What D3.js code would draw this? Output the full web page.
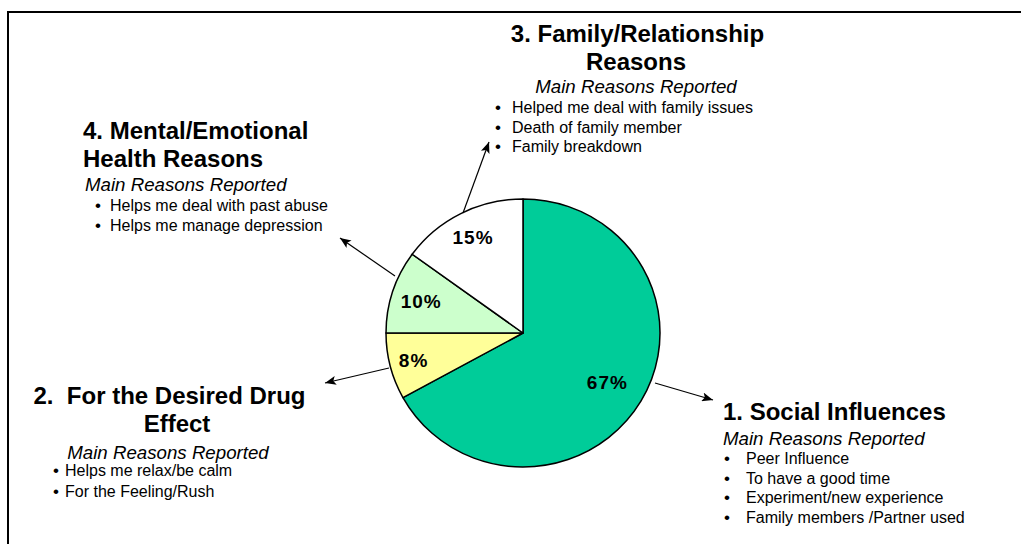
<!DOCTYPE html>
<html>
<head>
<meta charset="utf-8">
<script src="https://cdn.jsdelivr.net/npm/d3@7"></script>
<style>
  html, body { margin: 0; padding: 0; background: #fff; }
  svg { display: block; font-family: "Liberation Sans", Arial, sans-serif; }
</style>
</head>
<body>
<svg id="chart" width="1021" height="544"></svg>
<script>
// Reasons for use, share of respondents (%)
const categories = ["Social Influences", "For the Desired Drug Effect", "Mental/Emotional Health Reasons", "Family/Relationship Reasons"];
const values = [67, 8, 10, 15];
const sliceColors = ["#00CC99", "#FFFF99", "#CCFFCC", "#FFFFFF"];

// Slice draw order around the pie (clockwise from 12 o'clock)
const pieOrder = [0, 1, 2, 3];

// Callout blocks
const titles = [
  ["1. Social Influences"],
  ["2.\u00a0 For the Desired Drug", "Effect"],
  ["4. Mental/Emotional", "Health Reasons"],
  ["3. Family/Relationship", "Reasons"]
];
const subtitle = "Main Reasons Reported";
const reasons = [
  ["Peer Influence", "To have a good time", "Experiment/new experience", "Family members /Partner used"],
  ["Helps me relax/be calm", "For the Feeling/Rush"],
  ["Helps me deal with past abuse", "Helps me manage depression"],
  ["Helped me deal with family issues", "Death of family member", "Family breakdown"]
];

const svg = d3.select("#chart");
const W = 1021, H = 544;

// Frame (top and left rules)
svg.append("path")
  .attr("d", `M8,${H} V12 H${W}`)
  .attr("fill", "none").attr("stroke", "#000").attr("stroke-width", 2);

// Pie geometry
const cx = 523, cy = 333, R = 137, squash = 0.978;

const pie = d3.pie().sort(null).value(i => values[i]);
const arcs = pie(pieOrder);
const arc = d3.arc().innerRadius(0).outerRadius(R);

const g = svg.append("g").attr("transform", `translate(${cx},${cy}) scale(1,${squash})`);
g.selectAll("path.slice")
  .data(arcs)
  .join("path")
  .attr("class", "slice")
  .attr("d", arc)
  .attr("fill", d => sliceColors[d.data])
  .attr("stroke", "#000")
  .attr("stroke-width", 1.5)
  .attr("stroke-linejoin", "round");

// Percent labels
const labelRadius = [98, 113, 107, 110];
svg.selectAll("text.pct")
  .data(arcs)
  .join("text")
  .attr("class", "pct")
  .attr("x", d => cx + Math.sin((d.startAngle + d.endAngle) / 2) * labelRadius[d.data])
  .attr("y", d => cy - Math.cos((d.startAngle + d.endAngle) / 2) * labelRadius[d.data] * squash)
  .attr("dy", "0.36em")
  .attr("text-anchor", "middle")
  .attr("font-size", 19)
  .attr("font-weight", "bold")
  .attr("letter-spacing", 1)
  .text(d => values[d.data] + "%");

// Arrows from the pie to each callout
const defs = svg.append("defs");
defs.append("marker")
  .attr("id", "head")
  .attr("viewBox", "0 0 11 9")
  .attr("refX", 11).attr("refY", 4.5)
  .attr("markerWidth", 11).attr("markerHeight", 9)
  .attr("markerUnits", "userSpaceOnUse")
  .attr("orient", "auto")
  .append("path").attr("d", "M0,0 L11,4.5 L0,9 L2.5,4.5 Z").attr("fill", "#000");

const arrows = [
  [655, 383, 713, 400],
  [389, 368, 325, 383],
  [395, 276, 340, 238],
  [463, 213, 489, 142]
];
svg.selectAll("line.arrow")
  .data(arrows)
  .join("line")
  .attr("class", "arrow")
  .attr("x1", d => d[0]).attr("y1", d => d[1])
  .attr("x2", d => d[2]).attr("y2", d => d[3])
  .attr("stroke", "#000").attr("stroke-width", 1.2)
  .attr("marker-end", "url(#head)");

// Callout text layout
const blocks = [
  { titleX: [723], titleAnchor: "start", titleY: 419.5, subX: 723, subAnchor: "start", subY: 444.5,
    bulletX: 727, textX: 746, bulletY: 464, bulletStep: 19.6 },
  { titleX: [169.5, 177], titleAnchor: "middle", titleY: 403.5, subX: 168, subAnchor: "middle", subY: 458.5,
    bulletX: 56, textX: 65, bulletY: 476, bulletStep: 21 },
  { titleX: [83, 83], titleAnchor: "start", titleY: 138.5, subX: 85, subAnchor: "start", subY: 190.5,
    bulletX: 98, textX: 110, bulletY: 211, bulletStep: 20 },
  { titleX: [637.5, 636], titleAnchor: "middle", titleY: 41.5, subX: 636, subAnchor: "middle", subY: 92.5,
    bulletX: 498, textX: 512, bulletY: 113, bulletStep: 19.5 }
];

blocks.forEach((b, i) => {
  const grp = svg.append("g");
  titles[i].forEach((t, k) => {
    grp.append("text")
      .attr("x", b.titleX[k]).attr("y", b.titleY + k * 28)
      .attr("text-anchor", b.titleAnchor)
      .attr("font-size", 24).attr("font-weight", "bold")
      .style("white-space", "pre")
      .text(t);
  });
  grp.append("text")
    .attr("x", b.subX).attr("y", b.subY)
    .attr("text-anchor", b.subAnchor)
    .attr("font-size", 18.7).attr("font-style", "italic")
    .text(subtitle);
  reasons[i].forEach((r, k) => {
    const y = b.bulletY + k * b.bulletStep;
    grp.append("text")
      .attr("x", b.bulletX).attr("y", y)
      .attr("text-anchor", "middle")
      .attr("font-size", 17)
      .text("\u2022");
    grp.append("text")
      .attr("x", b.textX).attr("y", y)
      .attr("font-size", 16)
      .text(r);
  });
});
</script>
</body>
</html>
